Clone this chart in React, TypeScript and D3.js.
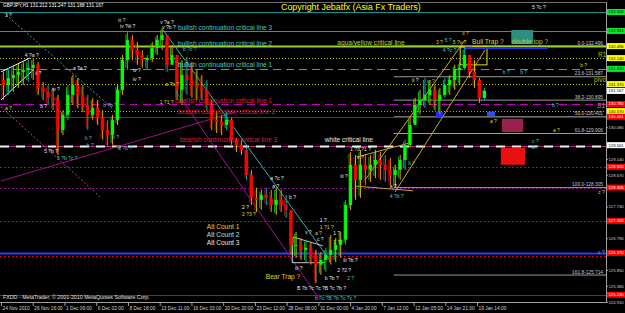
import React from 'react';
import * as d3 from 'd3';

const W = 625, H = 313, AX = 606, PB = 302;

// ---- price series (each candle = 10 H1 bars) ----
const highs = [131.73,131.85,131.91,131.97,132.02,132.08,132.14,132.02,131.43,131.34,131.26,131.05,130.60,131.34,131.64,131.55,131.34,131.05,130.96,130.90,130.60,130.31,130.46,131.34,132.23,132.91,132.82,132.62,132.38,132.23,132.62,132.82,133.03,132.68,132.53,132.23,132.08,132.17,132.02,131.79,131.64,131.49,130.90,130.54,130.46,130.54,130.37,129.77,129.72,129.48,128.83,128.30,128.24,128.30,128.24,128.30,128.24,128.09,127.64,126.99,126.81,126.76,126.70,126.46,126.40,126.52,126.90,126.81,126.99,127.94,129.36,129.27,129.42,129.27,129.27,129.42,129.36,129.27,129.18,128.98,129.27,129.72,130.37,130.96,131.20,131.55,131.49,131.34,131.26,131.55,131.64,131.94,132.02,132.44,132.23,132.08,131.55,131.26];
const lows = [130.90,131.05,131.14,131.26,131.34,131.43,131.49,131.05,130.90,130.75,130.60,129.27,129.86,130.31,130.75,130.66,130.54,130.01,130.31,130.16,129.72,129.51,129.57,130.16,131.05,131.79,132.08,131.94,131.85,131.79,132.02,132.23,132.38,131.73,132.02,130.90,130.75,131.05,130.96,130.90,130.90,130.60,130.01,129.92,129.86,130.01,129.57,129.36,129.27,128.53,127.79,127.58,127.64,127.79,127.58,127.50,127.58,127.41,126.31,126.22,126.16,126.10,126.02,125.48,125.72,125.81,126.02,126.10,126.22,126.61,127.64,127.94,128.00,128.38,128.47,128.59,128.53,128.47,128.38,128.30,128.53,128.83,129.48,130.16,130.46,130.66,130.75,130.60,130.49,130.96,131.05,131.20,131.34,131.79,131.55,131.26,130.81,130.90];
const closes = [131.34,131.55,131.64,131.73,131.79,131.85,131.94,131.26,131.14,130.96,130.90,130.01,130.46,131.05,131.34,131.05,130.75,130.46,130.66,130.37,130.01,129.86,130.31,131.20,132.08,132.68,132.38,132.23,132.08,132.14,132.44,132.68,132.82,131.94,132.23,131.20,131.64,131.49,131.34,131.26,131.20,130.75,130.31,130.25,130.16,130.31,129.72,129.57,129.42,128.68,128.00,127.94,128.09,128.00,127.79,127.94,127.79,127.64,126.61,126.61,126.46,126.52,126.31,126.02,126.16,126.31,126.46,126.61,126.76,127.79,128.98,128.53,128.98,128.83,128.98,129.12,128.98,128.83,128.68,128.83,129.12,129.57,130.16,130.75,130.90,131.05,131.20,130.90,131.05,131.34,131.49,131.79,131.85,132.23,131.73,131.49,130.96,131.17];
const firstOpen = 131.50;
const BARS_PER_CANDLE = 10;

// ---- axes ----
const timeLabels = ['24 Nov 2010','26 Nov 16:00','1 Dec 09:00','6 Dec 02:00','8 Dec 18:00','13 Dec 11:00','16 Dec 03:00','20 Dec 20:00','23 Dec 12:00','28 Dec 08:00','31 Dec 00:00','4 Jan 20:00','7 Jan 12:00','12 Jan 05:00','14 Jan 21:00','19 Jan 14:00'];
const TIME_LABEL_STEP = 64;
const gridPrices = [133.37,132.90,132.43,131.96,131.49,131.02,130.55,130.08,129.61,129.14,128.67,128.20,127.73,127.26,126.79,126.32,125.85,125.38,124.91];

// ---- horizontal levels ----
const levelPrices = [133.50,132.94,132.496,132.14,131.82,131.37,130.78,130.57,130.401,129.54,128.92,128.305,127.32,126.37,126.28,125.13];
const levelStyles = [
  { c: '#1a8f8f', w: 1, d: '' },
  { c: '#1fa0a0', w: 1, d: '' },
  { c: '#9acd32', w: 2, d: '' },
  { c: '#c8c800', w: 1, d: '1,2' },
  { c: '#20b2aa', w: 1, d: '8,5' },
  { c: '#c8c800', w: 1, d: '1,2' },
  { c: '#c000c0', w: 1, d: '8,5' },
  { c: '#b8a800', w: 1, d: '1,2' },
  { c: '#a000a0', w: 1, d: '' },
  { c: '#c02080', w: 1, d: '' },
  { c: '#a000a0', w: 1, d: '2,2' },
  { c: '#a000a0', w: 1, d: '2,2' },
  { c: '#a000a0', w: 1, d: '2,2' },
  { c: '#2a3cff', w: 2, d: '' },
  { c: '#e00000', w: 1, d: '2,2' },
  { c: '#e00000', w: 1, d: '' },
];
const whiteDashPrice = 129.54;

// right-hand price boxes
const boxPrices = [133.505,132.944,132.496,132.140,131.820,131.370,131.167,130.780,130.570,130.401,129.561,128.920,128.305,127.320,126.370,125.130];
const boxColors = ['#00ee30','#00ee30','#ffff00','#ffff00','#00ee30','#ffff00','#ffffff','#ff0000','#ffff00','#ff0000','#ffffff','#ff0000','#ff0000','#ff0000','#ff0000','#ff0000'];

// fibonacci
const fibNames = ['0.0','23.6','38.2','50.0','61.8','100.0','161.8'];
const fibPrices = [132.496,131.587,130.895,130.401,129.906,128.305,125.714];
const FIB_START_BAR = 792;

// ---- trend lines [bar1, price1, bar2, price2] ----
const trendLines = [
  [0,130.90,65,131.79],
  [0,131.73,58,132.14],
  [4,133.50,224,130.66],
  [0,128.50,472,130.54],
  [0,130.69,200,128.03],
  [327,132.97,663,126.16],
  [351,131.20,643,124.98],
  [734,128.53,936,132.68],
  [795,128.18,976,132.38],
  [718,129.21,825,129.63],
  [714,128.35,831,128.21],
];
const trendStyles = [
  { c: '#ffffff', d: '' }, { c: '#ffffff', d: '' },
  { c: '#4a9a9a', d: '2,2' },
  { c: '#a01080', d: '' },
  { c: '#c04080', d: '2,2' },
  { c: '#30b0b0', d: '' },
  { c: '#a01090', d: '' },
  { c: '#c8a830', d: '' }, { c: '#c8a830', d: '' },
  { c: '#c8a830', d: '' }, { c: '#c8a830', d: '' },
];

// ---- zones [bar1, price1, bar2, price2] ----
const zones = [
  [1029,132.97,1073,132.56],
  [1010,130.34,1053,129.95],
  [1008,129.48,1057,128.98],
  [877,130.55,891,130.40],
  [980,130.55,996,130.43],
  [936,132.50,950,132.40],
];
const zoneFills = ['#2e8f80','#9a2050','#e81010','#2828ff','#3050ff','#2828ff'];
const bullTrapBox = [926,132.47,980,131.94];
const blueLine = [936,132.44,1103,132.44];
const bearTrapShape = [[649,126.58],[589,126.84],[587,126.08],[653,126.08]];

// ---- text annotations ----
const lineTexts = [
  { bar: 357, price: 133.03, text: 'bullish continuation critical line 3', k: 't' },
  { bar: 357, price: 132.56, text: 'bullish continuation critical line 2', k: 't' },
  { bar: 678, price: 132.59, text: 'aqua/yellow critical line', k: 'g' },
  { bar: 357, price: 131.94, text: 'bullish continuation critical line 1', k: 't' },
  { bar: 351, price: 130.87, text: 'bearish continuation critical line 1', k: 'r' },
  { bar: 357, price: 130.55, text: 'bearish continuation critical line 2', k: 'r' },
  { bar: 361, price: 129.72, text: 'bearish continuation critical line 3', k: 'r' },
  { bar: 653, price: 129.72, text: 'white critical line', k: 'w' },
  { bar: 415, price: 127.14, text: 'Alt Count 1', k: 'y' },
  { bar: 415, price: 126.90, text: 'Alt Count 2', k: 'c' },
  { bar: 415, price: 126.67, text: 'Alt Count 3', k: 'w' },
  { bar: 534, price: 125.66, text: 'Bear Trap ?', k: 'y' },
  { bar: 950, price: 132.62, text: 'Bull Trap ?', k: 'y' },
  { bar: 1030, price: 132.62, text: 'double top ?', k: 'g' },
];
const waveLabels = [
  { bar: 8, price: 133.42, text: '3 ?', k: 'w' },
  { bar: 48, price: 132.23, text: '4 ?a ?', k: 'w' },
  { bar: 69, price: 131.70, text: 'ii ?', k: 'w' },
  { bar: 145, price: 131.85, text: 'a ?a ?', k: 'w' },
  { bar: 103, price: 131.23, text: 'iv ?', k: 'w' },
  { bar: 8, price: 130.66, text: 'a ?', k: 'y' },
  { bar: 236, price: 133.27, text: 'iii ?', k: 'p' },
  { bar: 240, price: 133.09, text: 'iv ?iii ?', k: 'w' },
  { bar: 321, price: 133.21, text: 'v ?a ?', k: 'w' },
  { bar: 325, price: 133.06, text: 'v ?b ?', k: 'w' },
  { bar: 367, price: 132.41, text: 'b ?c ?', k: 't' },
  { bar: 266, price: 131.79, text: 'iv ?', k: 'w' },
  { bar: 266, price: 131.52, text: 'iv ?', k: 'w' },
  { bar: 331, price: 131.37, text: 'a ?b ?', k: 'y' },
  { bar: 79, price: 130.72, text: 'b ?', k: 'w' },
  { bar: 169, price: 129.77, text: 'b ?', k: 't' },
  { bar: 173, price: 129.57, text: 'b ?', k: 't' },
  { bar: 224, price: 129.80, text: 'b ?', k: 't' },
  { bar: 87, price: 129.39, text: '5 ?b ?', k: 'w' },
  { bar: 113, price: 129.18, text: '5 ?b ?c ?', k: 't' },
  { bar: 236, price: 129.48, text: 'a ?b ?', k: 't' },
  { bar: 206, price: 130.75, text: 'b ?b ?', k: 't' },
  { bar: 320, price: 130.83, text: '1 ?1 ?', k: 'y' },
  { bar: 543, price: 128.59, text: 'a ?c ?', k: 'w' },
  { bar: 547, price: 128.35, text: 'a ?', k: 'w' },
  { bar: 581, price: 128.03, text: 'b ?', k: 'w' },
  { bar: 486, price: 127.73, text: '2 ?', k: 'w' },
  { bar: 486, price: 127.50, text: '2 ?3 ?', k: 'y' },
  { bar: 643, price: 127.35, text: '1 ?', k: 'w' },
  { bar: 643, price: 127.14, text: '1 ?1 ?', k: 'y' },
  { bar: 613, price: 126.99, text: 'v ?', k: 'w' },
  { bar: 633, price: 126.96, text: 'a ?', k: 'y' },
  { bar: 637, price: 126.76, text: 'c ?', k: 'w' },
  { bar: 670, price: 126.96, text: '1 ?', k: 'w' },
  { bar: 670, price: 126.70, text: '1 ?', k: 'y' },
  { bar: 593, price: 125.93, text: 'iii ?', k: 'w' },
  { bar: 690, price: 126.16, text: 'iii ?b ?', k: 'w' },
  { bar: 678, price: 125.87, text: '2 ?2 ?', k: 'w' },
  { bar: 698, price: 125.63, text: '2 ?', k: 't' },
  { bar: 653, price: 125.63, text: 'b ?b ?', k: 'w' },
  { bar: 597, price: 125.31, text: 'B ?b ?c ?c ?B ?c ?b ?', k: 'w' },
  { bar: 633, price: 125.04, text: 'b ?c ?B ?b ?c ?c ?', k: 't' },
  { bar: 684, price: 128.65, text: 'iii ?', k: 'w' },
  { bar: 718, price: 129.21, text: 'v ?', k: 'w' },
  { bar: 704, price: 129.45, text: '1 ?3 ?1 ?', k: 'w' },
  { bar: 821, price: 129.03, text: 'b ?', k: 't' },
  { bar: 784, price: 128.35, text: 'a ?', k: 'w' },
  { bar: 784, price: 128.06, text: '4 ?b ?', k: 't' },
  { bar: 1071, price: 133.65, text: '5 ?c ?', k: 'w' },
  { bar: 930, price: 132.88, text: 'c ?', k: 'y' },
  { bar: 877, price: 132.62, text: '3 ?', k: 'y' },
  { bar: 895, price: 132.68, text: '5 ?', k: 't' },
  { bar: 911, price: 132.62, text: '5 ?v ?', k: 'y' },
  { bar: 891, price: 132.38, text: '4 ?c ?', k: 't' },
  { bar: 1012, price: 131.73, text: 'b ?', k: 't' },
  { bar: 1047, price: 131.73, text: 'b ?', k: 't' },
  { bar: 1168, price: 131.94, text: 'b ?', k: 'y' },
  { bar: 829, price: 131.49, text: 'ii ?', k: 'w' },
  { bar: 859, price: 131.46, text: 'iv ?', k: 't' },
  { bar: 1111, price: 130.75, text: 'b ?', k: 't' },
  { bar: 986, price: 130.28, text: 'a ?', k: 'y' },
  { bar: 1113, price: 130.01, text: 'a ?', k: 'y' },
  { bar: 1071, price: 129.69, text: 'c ?', k: 't' },
  { bar: 1071, price: 129.51, text: 'a ?', k: 't' },
  { bar: 1204, price: 128.18, text: 'c ?', k: 'y' },
  { bar: 1204, price: 126.40, text: 'c ?', k: 't' },
];
const pivotTexts = [
  { bar: 1204, price: 132.23, text: 'R1' },
  { bar: 1196, price: 131.49, text: 'pivot' },
  { bar: 1202, price: 130.72, text: 'S1' },
];

const textColors: Record<string, string> = {
  w: '#e8e8e8', y: '#e8d020', t: '#40c8c8', g: '#a8d840', r: '#dc1e3c', c: '#a8e0e0', p: '#d8d8a0',
};

const FONT = 'Liberation Sans, Arial, sans-serif';
const AXIS_FONT = 4.2;

export default function App() {
  const x = d3.scaleLinear().domain([0, 1220]).range([1, AX]);
  const y = d3.scaleLinear().domain([124.91, 133.86]).range([302.2, 0]);

  const opens = closes.map((c, i) => (i === 0 ? firstOpen : closes[i - 1]));
  const wickPalette = ['#d4a017', '#00b0b0', '#ff8c00', '#c8c800'];
  const lineGen = d3.line<number[]>().x(d => x(d[0])).y(d => y(d[1]));

  // grid labels hidden behind the coloured price boxes (as in MetaTrader)
  const visibleGrid = gridPrices.filter(p => boxPrices.every(b => Math.abs(y(b) - y(p)) > 6.5));

  return (
    <svg width={W} height={H} style={{ position: 'fixed', left: 0, top: 0, background: '#000' }} fontFamily={FONT}>
      <rect x={0} y={0} width={W} height={H} fill="#000" />
      <defs>
        <clipPath id="plot"><rect x={0} y={0} width={AX} height={PB} /></clipPath>
      </defs>
      <g clipPath="url(#plot)">
        {fibPrices.map((p, i) => (
          <line key={'fl' + i} x1={x(FIB_START_BAR)} x2={AX} y1={y(p)} y2={y(p)} stroke="#9a9a9a" strokeWidth={1} />
        ))}
        {levelPrices.map((p, i) => (
          <line key={'lv' + i} x1={0} x2={AX} y1={Math.round(y(p)) + 0.5} y2={Math.round(y(p)) + 0.5}
            stroke={levelStyles[i].c} strokeWidth={levelStyles[i].w} strokeDasharray={levelStyles[i].d} />
        ))}
        <line x1={0} x2={AX} y1={Math.round(y(whiteDashPrice)) + 0.5} y2={Math.round(y(whiteDashPrice)) + 0.5}
          stroke="#f0f0f0" strokeWidth={2} strokeDasharray="9,7" />
        {trendLines.map((t, i) => (
          <path key={'tl' + i} d={lineGen([[t[0], t[1]], [t[2], t[3]]]) || ''} stroke={trendStyles[i].c}
            strokeDasharray={trendStyles[i].d} strokeWidth={1} fill="none" />
        ))}
        {zones.map((z, i) => (
          <rect key={'z' + i} x={x(z[0])} y={y(z[1])} width={x(z[2]) - x(z[0])} height={y(z[3]) - y(z[1])} fill={zoneFills[i]} />
        ))}
        <rect x={x(bullTrapBox[0])} y={y(bullTrapBox[1])} width={x(bullTrapBox[2]) - x(bullTrapBox[0])}
          height={y(bullTrapBox[3]) - y(bullTrapBox[1])} fill="none" stroke="#e8e000" strokeWidth={1} />
        <line x1={x(blueLine[0])} x2={x(blueLine[2])} y1={y(blueLine[1])} y2={y(blueLine[3])} stroke="#2030ff" strokeWidth={2} />
        <path d={lineGen(bearTrapShape) || ''} stroke="#c8c8c8" fill="none" strokeWidth={1} />
        {closes.map((c, i) => {
          const cx = x(i * BARS_PER_CANDLE + BARS_PER_CANDLE / 2);
          const o = opens[i];
          const up = c >= o;
          const top = y(Math.max(o, c));
          const bot = y(Math.min(o, c));
          return (
            <g key={'c' + i}>
              <line x1={cx} x2={cx} y1={y(highs[i])} y2={y(lows[i])} stroke={wickPalette[i % wickPalette.length]} strokeWidth={1} />
              <line x1={cx - 1.5} x2={cx - 1.5} y1={y(highs[i]) + 2} y2={y(lows[i]) - 2} stroke={up ? '#00c000' : '#c00000'} strokeWidth={1} />
              <rect x={cx - 1.5} y={top} width={3} height={Math.max(1, bot - top)} fill={up ? '#00ff00' : '#ff0000'} />
            </g>
          );
        })}
        {fibPrices.map((p, i) => (
          <text key={'ft' + i} x={AX - 3} y={y(p) - 1.5} fontSize={4.8} fill="#c8c8c8" textAnchor="end">{fibNames[i] + '-' + p.toFixed(3)}</text>
        ))}
        {lineTexts.map((t, i) => (
          <text key={'lt' + i} x={x(t.bar)} y={y(t.price)} dy="0.35em" fontSize={6.6} fill={textColors[t.k]}>{t.text}</text>
        ))}
        {waveLabels.map((t, i) => (
          <text key={'wl' + i} x={x(t.bar)} y={y(t.price)} dy="0.35em" fontSize={5} fill={textColors[t.k]}>{t.text}</text>
        ))}
        {pivotTexts.map((t, i) => (
          <text key={'pv' + i} x={x(t.bar)} y={y(t.price)} dy="0.35em" fontSize={6.5} fill="#b8b800">{t.text}</text>
        ))}
      </g>
      <text x={3} y={7} fontSize={4.8} fill="#ffffff">GBPJPY,H1  131.212 131.247 131.188 131.167</text>
      <text x={281} y={10} fontSize={8.9} fill="#ffff00">Copyright Jebatfx (Asia Fx Traders)</text>
      <text x={3} y={299} fontSize={5.3} fill="#e0e0e0">FXDD - MetaTrader, © 2001-2010 MetaQuotes Software Corp.</text>
      <line x1={AX + 0.5} x2={AX + 0.5} y1={2} y2={PB + 1} stroke="#a0a0a0" />
      <line x1={0} x2={AX} y1={PB + 0.5} y2={PB + 0.5} stroke="#a0a0a0" />
      <line x1={0} x2={AX} y1={2.5} y2={2.5} stroke="#707070" />
      {visibleGrid.map((p, i) => (
        <g key={'gp' + i}>
          <line x1={AX} x2={AX + 2} y1={y(p)} y2={y(p)} stroke="#a0a0a0" />
          <text x={AX + 2.5} y={y(p)} dy="0.35em" fontSize={AXIS_FONT} fill="#d0d0d0">{p.toFixed(3)}</text>
        </g>
      ))}
      {boxPrices.map((p, i) => (
        <g key={'bx' + i}>
          <rect x={AX + 1} y={y(p) - 3} width={W - AX - 1} height={6} fill={boxColors[i]} />
          <text x={AX + 2.5} y={y(p)} dy="0.35em" fontSize={AXIS_FONT} fill={boxColors[i] === '#ff0000' ? '#ffffff' : '#000000'}>{p.toFixed(3)}</text>
        </g>
      ))}
      {timeLabels.map((t, i) => (
        <g key={'tx' + i}>
          <line x1={x(i * TIME_LABEL_STEP) + 0.5} x2={x(i * TIME_LABEL_STEP) + 0.5} y1={PB} y2={PB + 4} stroke="#a0a0a0" />
          <text x={x(i * TIME_LABEL_STEP) + 1.5} y={310} fontSize={4.8} fill="#d0d0d0">{t}</text>
        </g>
      ))}
    </svg>
  );
}
